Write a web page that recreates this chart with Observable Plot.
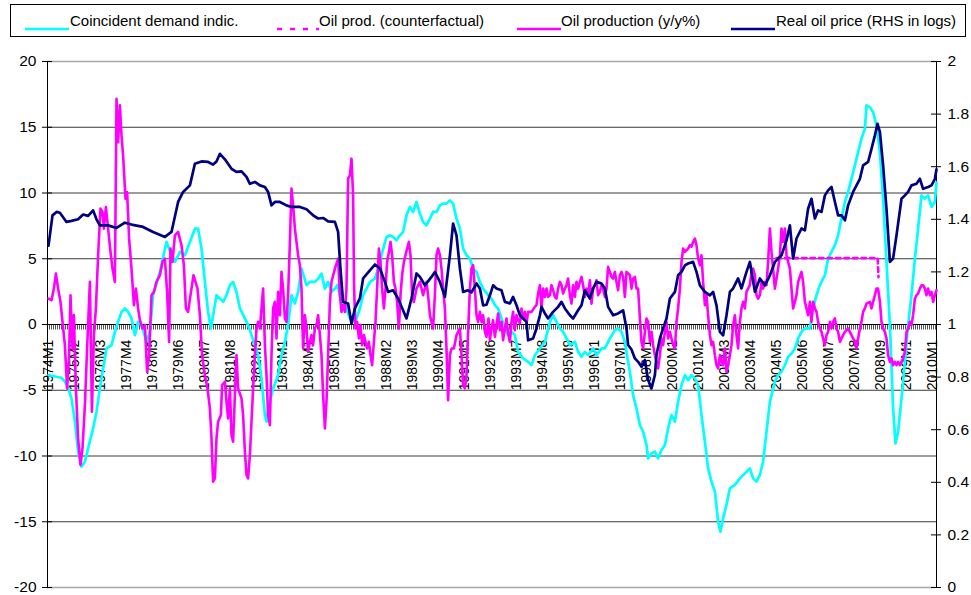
<!DOCTYPE html>
<html><head><meta charset="utf-8">
<script src="https://cdn.jsdelivr.net/npm/d3@7"></script>
<script src="https://cdn.jsdelivr.net/npm/@observablehq/plot@0.6"></script>
<style>
body{margin:0;background:#fff;font-family:"Liberation Sans",Arial,sans-serif;}
#wrap{position:relative;width:971px;height:595px;overflow:hidden;}
#legend{position:absolute;left:10px;top:4px;width:956px;height:33px;border:1px solid #000;box-sizing:border-box;z-index:2;}
.sw{position:absolute;top:13px;}
.lt{position:absolute;top:7px;font-size:15px;line-height:17px;color:#000;white-space:nowrap;}
#chart{position:absolute;left:0;top:37px;z-index:1;}
</style></head><body>
<div id="wrap"><div id="legend"></div><div id="chart"></div></div>
<script>
// ---- series names / legend ----
const seriesNames = ["Coincident demand indic.", "Oil prod. (counterfactual)", "Oil production (y/y%)", "Real oil price (RHS in logs)"];
const seriesColors = ["#00FFFF", "#FF00FF", "#FF00FF", "#000080"];

// ---- x-axis category labels (month index from 1974M1, label text as shown) ----
const xTickMonths = [0,13,26,39,52,65,78,91,104,117,130,143,156,169,182,195,208,221,234,247,260,273,286,299,312,325,338,351,364,377,390,403,416,429,442];
const xTickLabels = ["1974M1","1975M2","1976M3","1977M4","1978M5","1979M6","1980M7","1981M8","1982M9","1983M1","1984M1","1985M1","1987M1","1988M2","1989M3","1990M4","1991M5","1992M6","1993M7","1994M8","1995M9","1996M1","1997M1","1998M1","2000M1","2001M2","2002M3","2003M4","2004M5","2005M6","2006M7","2007M8","2008M9","2009M1","2010M1"];
const leftTicks = [-20,-15,-10,-5,0,5,10,15,20];
const rightTicks = [0,0.2,0.4,0.6,0.8,1,1.2,1.4,1.6,1.8,2];
const rightTickLabels = ["0","0.2","0.4","0.6","0.8","1","1.2","1.4","1.6","1.8","2"];

// ---- data: [month index since 1974M1, value] ----
const demand = [[0,-3.85],[4,-3.97],[6.5,-4.05],[8.2,-4.35],[9.8,-4.86],[11.5,-5.62],[13.2,-7.39],[14.8,-9.67],[16.5,-10.81],[18.2,-10.43],[19.8,-9.42],[22.3,-7.9],[24,-6.63],[25.7,-4.86],[27.3,-3.34],[29,-1.82],[31.5,-1.57],[33.2,-0.56],[34.8,0.2],[36.5,0.96],[38.2,1.22],[39.8,0.96],[41.5,0.46],[43.2,-0.81],[44.8,0.2],[46.5,-0.05],[49,-1.32],[50.7,-0.56],[52.3,2.23],[55.7,4.0],[59,6.28],[61.5,5.27],[63.2,4.76],[65.7,5.52],[68.2,5.27],[70.7,6.28],[73.2,7.29],[74.8,7.29],[76.5,5.77],[78.2,3.24],[79.8,0.96],[81.2,-0.3],[82.3,0.71],[84,2.23],[85.7,1.97],[87.3,1.72],[89,2.23],[90.7,2.99],[92.3,3.24],[94,2.48],[95.7,1.22],[98.2,0.46],[99.8,-0.05],[101.5,-0.81],[103.2,-1.57],[104.8,-2.33],[106.5,-4.1],[108.2,-6.89],[109,-7.39],[110.7,-5.87],[112.3,-4.86],[114.8,-3.85],[116.5,-2.33],[118.2,-1.32],[119.8,-0.05],[121.5,2.23],[123.2,1.59],[124.8,2.48],[126.5,4.25],[129,2.99],[130.7,3.24],[133.2,3.24],[134.8,3.49],[136.5,3.87],[138.2,2.73],[139.8,3.24],[141.5,2.48],[143.2,2.73],[144.5,3.0],[145.7,2.23],[147.3,1.72],[149,1.22],[150.7,0.46],[152.3,0.2],[154,0.46],[155.7,1.22],[157.3,2.23],[159,2.73],[160.7,3.24],[163.2,3.49],[164.8,4.25],[166.5,5.27],[169,6.66],[170.7,6.78],[172.3,6.66],[174,6.41],[175.7,6.78],[177.3,7.04],[179,8.3],[180.7,8.94],[182.3,8.56],[184,9.32],[185.7,8.43],[187.3,7.8],[189,7.54],[190.7,8.05],[192.3,8.56],[194,8.56],[195.7,9.06],[197.3,9.19],[199,9.19],[200.7,9.44],[202.3,9.19],[204,8.05],[205.7,7.29],[207.3,5.77],[209,5.27],[210.7,5.01],[212.3,4.25],[214,4.0],[215.7,3.24],[217.3,2.73],[219.8,2.23],[221.5,1.97],[223.2,1.47],[224.8,1.22],[226.5,0.46],[228.2,-0.3],[229.8,-0.81],[231.5,-0.56],[233.2,-0.81],[234.8,-2.08],[237.3,-2.58],[239.8,-2.84],[241.5,-3.09],[243.2,-2.33],[245.7,-1.82],[248.2,-1.32],[250.7,0.2],[252.3,0.71],[254,0.2],[255.7,-0.3],[257.3,-0.56],[259,-1.06],[260.7,-1.57],[263.2,-1.32],[264.8,-2.08],[266.5,-2.46],[268.2,-2.08],[269.8,-2.33],[272.3,-1.82],[274,-2.33],[276.5,-1.82],[278.2,-1.82],[280.7,-1.06],[283.2,-0.43],[284.8,-0.3],[286.5,-0.56],[288.2,-1.32],[289.8,-2.84],[290.7,-3.6],[292.3,-5.37],[294,-6.38],[295.7,-7.65],[297.3,-8.15],[299,-9.16],[299.8,-10.18],[301.5,-9.8],[303.2,-9.67],[304.8,-10.18],[306.5,-9.54],[308.2,-9.16],[309.8,-7.9],[311.5,-6.89],[313.2,-7.39],[314.8,-5.87],[316.5,-4.61],[318.2,-3.85],[319.8,-4.23],[321.5,-3.85],[323.2,-4.1],[324.8,-4.61],[326.5,-6.89],[328.2,-8.91],[329.8,-10.94],[331.5,-11.95],[333.2,-12.71],[334.8,-14.99],[336,-15.75],[337.3,-14.73],[339,-13.72],[340.7,-12.46],[343.2,-12.2],[345.7,-11.7],[348.2,-11.32],[350.7,-10.94],[352.3,-11.7],[354,-11.95],[355.7,-11.44],[357.3,-10.43],[359,-8.15],[360.7,-5.87],[363.2,-4.35],[364.8,-3.85],[366.5,-3.6],[368.2,-3.09],[369.8,-2.46],[371.5,-2.2],[373.2,-1.82],[374.8,-1.06],[376.5,-0.56],[378.2,-0.3],[380.7,-0.3],[382.3,1.22],[384,2.23],[385.7,2.99],[388.2,3.75],[389.8,5.01],[391.5,5.52],[393.2,6.03],[394.8,6.78],[396.5,8.05],[398.2,9.32],[399.8,10.08],[401.5,11.09],[403.2,12.1],[404.8,13.11],[406.5,14.13],[408.2,14.89],[409,16.66],[410.7,16.53],[412.3,16.15],[414,15.14],[415.7,13.11],[417.3,9.57],[419,4.76],[420.7,-0.05],[422.3,-6.38],[423.5,-9.04],[424.8,-8.15],[426.5,-5.62],[428.2,-2.84],[429.8,-0.05],[431.5,2.23],[433.2,5.01],[434.8,7.29],[436.5,9.82],[438.2,9.57],[439.8,9.82],[441.5,8.94],[443.2,9.32],[444,10.8]];

const oilProd = [[0,1.97],[1.5,1.85],[2.7,2.73],[3.7,3.87],[4.8,2.73],[6,1.72],[7,0.2],[8.2,-1.57],[9.3,-4.86],[10.3,-2.33],[11,2.23],[12,-1.82],[12.7,0.71],[13.7,-4.86],[14.8,-8.66],[16,-10.68],[17,-9.42],[18.2,-6.13],[19.3,-1.82],[20,0.71],[20.7,3.24],[21.7,-6.63],[22.7,-0.81],[23.7,1.22],[24.8,5.27],[26,8.81],[27,8.56],[27.7,7.29],[28.7,8.94],[29.8,7.29],[31,5.52],[32,4.25],[33.2,3.24],[34,17.16],[34.8,13.87],[35.7,16.66],[36.5,14.38],[37.3,12.86],[38.5,9.57],[39.3,10.08],[40.3,6.53],[41.5,4.25],[42.7,1.47],[43.7,2.73],[44.8,1.22],[45.7,0.33],[47,-0.3],[48.2,-0.05],[49.3,-3.6],[50.3,-2.33],[51.5,2.23],[52.7,2.48],[54,3.24],[55.7,3.75],[57,4.76],[58.2,5.01],[59.3,2.48],[60.3,-1.32],[61,5.77],[62,4.76],[63.2,6.78],[64.8,7.04],[66.5,6.03],[67.7,4.51],[68.7,1.22],[69.8,0.96],[71,2.23],[72.5,3.75],[74.5,2.73],[75.7,0.71],[76.8,-2.33],[78.2,-3.85],[79.5,-4.86],[80.7,-6.38],[81.5,-8.66],[82.3,-11.95],[83.2,-11.7],[84,-8.66],[84.8,-7.39],[86.2,-6.89],[86.8,-4.61],[88.2,-4.35],[89,-5.87],[89.8,-7.14],[90.7,-4.86],[91.5,-8.41],[92.3,-8.91],[93.2,-5.37],[94,-2.33],[94.8,-4.86],[96.5,-5.62],[97.3,-6.89],[98.2,-9.67],[99,-11.44],[99.8,-11.7],[100.7,-9.92],[101.5,-7.39],[102.3,-4.86],[103.2,-2.33],[104,-0.3],[104.8,0.2],[105.7,-0.3],[106.5,1.22],[107.3,2.73],[108.2,-1.57],[109,-3.85],[109.8,-6.89],[110.7,-7.65],[111.5,-2.33],[112.3,1.22],[113.2,1.72],[114,-1.06],[114.8,2.48],[115.7,0.71],[116.5,4.0],[117.3,2.73],[118.2,0.46],[119,0.2],[119.8,2.23],[120.7,6.28],[121.5,10.33],[122.3,9.06],[123.2,7.29],[124,6.28],[124.8,5.27],[125.7,4.51],[126.5,2.73],[127.3,-1.82],[128.2,0.71],[129,-0.3],[129.8,-2.08],[130.7,-1.32],[131.5,-0.81],[132.3,-1.57],[133.2,-0.3],[134,-0.05],[134.8,0.71],[135.7,-0.81],[136.5,-2.33],[137.3,-5.37],[138.2,-7.9],[139,-5.87],[139.8,-2.33],[140.7,1.72],[141.5,3.24],[143.2,4.25],[144.8,5.01],[145.7,2.23],[146.5,0.96],[147.3,1.47],[148.2,0.96],[149,2.73],[149.8,11.09],[150.7,11.34],[151.5,12.61],[152.3,9.82],[152.8,2.73],[153.5,-0.3],[154.3,0.2],[155.2,-1.06],[156,-0.05],[156.8,-1.57],[157.7,-0.81],[158.5,-1.32],[159.3,-1.82],[160.2,-1.32],[161,-2.33],[161.8,-3.09],[162.7,-1.32],[163.5,0.2],[164.3,2.73],[165.2,5.77],[166,4.76],[166.8,2.73],[167.7,1.22],[168.5,2.73],[169.3,4.76],[170.2,5.52],[171,6.28],[171.8,5.27],[172.7,3.24],[173.5,2.73],[174.3,1.72],[175.2,-0.3],[176,2.23],[176.8,3.75],[177.7,4.76],[178.5,5.27],[179.3,5.77],[180.2,6.28],[181,5.27],[181.8,2.23],[182.7,1.72],[184,2.73],[185.7,3.24],[187.3,2.23],[189,3.24],[189.8,2.23],[190.7,0.71],[191.5,0.2],[192.3,-0.3],[193.2,2.23],[194,5.27],[194.8,5.77],[195.7,5.27],[196.5,4.25],[197.3,2.73],[198.2,1.22],[199,-1.82],[199.8,-5.75],[200.7,-2.33],[201.5,-1.82],[202.7,-1.82],[204,-0.81],[204.8,-0.56],[205.7,-0.3],[206.5,-2.33],[207.3,-4.61],[208.2,-4.86],[209,-3.85],[209.8,-0.56],[210.7,2.73],[211.5,4.25],[212.3,4.51],[213.2,2.73],[214,0.71],[214.8,0.2],[215.7,0.96],[216.5,0.2],[217.3,0.71],[218.2,-0.56],[219,-0.94],[220,0.46],[220.7,-1.19],[221.5,-0.3],[222.3,0.33],[223.2,-0.94],[224,-0.05],[224.8,0.84],[225.7,-0.43],[226.5,0.2],[227.3,-1.19],[228.2,-0.3],[229,0.46],[229.8,-0.68],[230.7,-1.32],[231.5,0.2],[232.3,0.96],[233.2,-0.43],[234,0.71],[234.8,0.33],[235.7,0.08],[236.5,1.22],[237.3,0.46],[238.2,0.96],[239,0.08],[239.8,0.96],[241.5,0.96],[243.2,1.34],[244,1.47],[244.8,2.35],[245.7,2.99],[246.5,1.22],[247.3,2.73],[248.2,2.1],[249,2.73],[249.8,2.1],[250.7,2.23],[251.5,2.99],[252.3,2.61],[253.2,2.1],[254,1.97],[254.8,2.73],[255.7,3.24],[256.5,2.99],[257.3,2.35],[258.2,2.73],[259,2.99],[259.8,3.49],[260.7,2.23],[261.5,1.59],[262.3,2.99],[263.2,2.1],[264,3.24],[264.8,2.73],[265.7,3.24],[266.5,3.62],[267.3,2.99],[268.2,2.1],[269,2.73],[269.8,2.23],[270.7,3.37],[271.5,1.59],[272.3,2.73],[273.2,2.99],[274,3.37],[274.8,2.23],[275.7,2.48],[276.5,2.99],[277.3,2.73],[278.2,2.1],[279,2.73],[279.8,4.38],[280.7,4.0],[281.5,3.62],[282.3,3.49],[283.2,4.0],[284,3.24],[284.8,2.61],[285.7,3.75],[286.5,4.0],[287.3,3.62],[288.2,2.1],[289,4.0],[290.7,3.75],[291.5,2.73],[292.3,3.49],[293.2,3.62],[294,2.73],[294.8,2.73],[295.7,0.46],[296.5,-1.32],[297.3,-1.82],[298.2,-0.56],[299,0.46],[299.8,0.2],[300.7,-1.32],[301.5,-0.56],[302.3,-1.57],[303.2,-2.33],[304,-2.84],[304.8,-3.34],[305.7,-2.33],[306.5,-1.06],[307.3,-1.57],[308.2,-0.56],[309,0.2],[309.8,-1.06],[310.7,-0.56],[311.5,-1.06],[312.3,-1.57],[313.2,-1.82],[314,0.2],[314.8,1.22],[315.7,2.73],[316.5,4.76],[317.3,5.77],[318.2,5.52],[319,5.65],[319.8,5.77],[320.7,6.03],[321.5,5.9],[322.3,6.28],[323.2,6.53],[324,6.03],[324.8,5.01],[325.7,4.51],[326.5,5.27],[327.3,3.24],[328.2,1.47],[329,2.23],[329.8,0.71],[330.7,-0.81],[331.5,-1.57],[332.3,-1.32],[333.2,-2.33],[334,-3.09],[334.8,-3.34],[335.7,-2.33],[336.5,-2.84],[337.3,-3.09],[338.2,-1.82],[339,-3.6],[339.8,-3.09],[340.7,-2.33],[341.5,-1.57],[342.3,-0.05],[343.2,0.71],[344,-0.81],[344.8,-1.82],[345.7,0.2],[346.5,1.22],[347.3,1.72],[348.2,1.22],[349,2.48],[349.8,2.73],[350.7,2.99],[351.5,4.0],[352.3,4.25],[353.2,3.75],[354,2.23],[354.8,1.97],[355.7,2.23],[356.5,3.24],[357.3,2.73],[358.2,3.24],[359,2.99],[359.8,4.76],[360.7,7.29],[361.5,5.5],[362.3,4.25],[363.2,2.73],[364.8,4.25],[365.7,5.27],[366.5,7.29],[367.3,6.28],[368.2,7.29],[369,5.27],[369.8,4.76],[370.7,4.25],[371.5,2.73],[372.3,1.22],[373.2,1.72],[374,2.23],[374.8,3.24],[376.5,4.0],[377.3,3.24],[378.2,1.72],[379,1.22],[379.8,0.71],[380.7,1.72],[381.5,0.2],[382.3,1.72],[383.2,1.22],[384,0.96],[384.8,0.2],[385.7,-0.3],[386.5,-0.56],[387.3,-1.06],[388.2,-1.57],[389,-0.81],[389.8,-0.56],[390.7,0.2],[391.5,-0.3],[392.3,0.2],[393.2,0.46],[394,-0.3],[394.8,-0.56],[395.7,-1.32],[396.5,-1.06],[397.3,-0.81],[398.2,-0.56],[399.8,-0.3],[401.5,-0.81],[403.2,-1.32],[404,-1.82],[404.8,-1.06],[405.7,-0.3],[406.5,0.2],[407.3,0.96],[408.2,1.22],[409,1.59],[410.7,1.72],[411.5,1.22],[412.3,1.72],[413.2,2.23],[414,2.73],[414.8,2.73],[415.7,1.72],[416.5,0.2],[417.3,-0.3],[418.2,-0.56],[419,-1.06],[419.8,-2.33],[420.7,-2.84],[421.5,-2.58],[422.3,-3.09],[423.2,-2.84],[424,-3.09],[424.8,-2.84],[425.7,-3.09],[426.5,-2.84],[427.3,-2.58],[428.2,-2.08],[429,-0.56],[429.8,-0.3],[430.7,0.2],[431.5,-0.05],[432.3,0.71],[433.2,1.97],[434,2.23],[434.8,2.35],[435.7,2.73],[436.5,2.99],[437.3,2.99],[438.2,2.73],[439,2.23],[439.8,2.73],[440.7,2.23],[441.5,2.48],[442.3,1.72],[443.2,2.23],[444,2.61]];

const oilProdCounterfactual = [[364,5.05],[390,5.05],[414.6,5.05],[415,3.6]];

const oilPrice = [[0,1.30],[2,1.415],[4,1.428],[5.7,1.425],[9,1.39],[11.5,1.394],[14.8,1.40],[17.3,1.418],[19.8,1.413],[22.3,1.434],[24,1.40],[25.7,1.377],[29.8,1.377],[34,1.367],[38.2,1.387],[41.5,1.38],[47.3,1.371],[52.3,1.352],[58.2,1.333],[61.5,1.352],[64.8,1.466],[67.3,1.504],[70.7,1.529],[73.2,1.611],[76.5,1.62],[79.8,1.618],[82.3,1.608],[84,1.62],[85.7,1.649],[88.2,1.628],[91.5,1.592],[94,1.58],[96.5,1.582],[99,1.561],[100.7,1.535],[103.2,1.542],[105.7,1.529],[108.2,1.523],[109.8,1.504],[111.5,1.453],[113.2,1.466],[115.7,1.466],[119,1.453],[121.5,1.447],[125.7,1.447],[129,1.438],[132.3,1.415],[134.8,1.403],[137.3,1.405],[139.8,1.392],[143.2,1.39],[144.8,1.352],[146,1.21],[147.3,1.086],[149.8,1.08],[151.5,1.004],[153.2,1.061],[155.7,1.099],[157.3,1.175],[160.7,1.206],[163.2,1.228],[165.7,1.213],[168.2,1.162],[169.8,1.124],[172.3,1.13],[174.8,1.099],[179,1.023],[181.5,1.099],[184,1.194],[185.7,1.181],[188.2,1.149],[191.5,1.181],[193.2,1.2],[195.7,1.162],[198.2,1.105],[200.7,1.263],[202.3,1.384],[204,1.339],[205.7,1.213],[207.3,1.124],[209.8,1.13],[211.5,1.122],[214,1.156],[215.7,1.137],[217.3,1.073],[219,1.075],[220.7,1.111],[222.3,1.149],[224,1.137],[226.5,1.13],[228.2,1.086],[230.7,1.08],[232.3,1.105],[234,1.073],[235.7,1.035],[237.3,1.023],[239,1.01],[239.8,0.94],[242.3,0.947],[244,0.985],[245.7,1.035],[246.5,1.067],[248.2,1.042],[249.8,1.023],[252.3,1.048],[254.8,1.067],[256.5,1.086],[258.2,1.061],[260.7,1.035],[262.3,1.023],[264.8,1.054],[266.5,1.073],[268.2,1.13],[270.7,1.099],[272.3,1.137],[274,1.162],[276.5,1.156],[278.2,1.137],[279.8,1.067],[282.3,1.035],[284.8,1.042],[287.3,1.054],[289,0.985],[289.8,0.922],[291.5,0.905],[293.2,0.871],[294.8,0.858],[296.5,0.839],[298.2,0.865],[299.8,0.789],[301.5,0.757],[303.2,0.808],[304,0.884],[305.7,0.947],[307.3,0.985],[309,1.023],[310.7,1.099],[313.2,1.124],[314.8,1.187],[316.5,1.2],[318.2,1.225],[319.8,1.232],[322.3,1.238],[324,1.2],[325.7,1.149],[328.2,1.124],[330.7,1.111],[332.3,1.124],[334,1.073],[335.7,0.972],[337.3,0.959],[339,1.035],[340.7,1.124],[342.3,1.137],[344.8,1.175],[346.5,1.137],[349,1.2],[350.7,1.238],[353.2,1.124],[355.7,1.175],[358.2,1.149],[360.7,1.187],[363.2,1.238],[366.5,1.263],[369,1.32],[370.7,1.377],[372.3,1.251],[374,1.327],[376.5,1.365],[378.2,1.358],[379.8,1.44],[381.5,1.478],[383.2,1.403],[384.8,1.434],[386.5,1.428],[388.2,1.491],[389.8,1.51],[391.5,1.523],[393.2,1.466],[394.8,1.415],[396.5,1.415],[398.2,1.396],[399.8,1.453],[402.3,1.504],[404,1.529],[405.7,1.554],[407.3,1.605],[409.8,1.618],[411.5,1.668],[413.2,1.719],[414.5,1.763],[415.7,1.732],[417.3,1.605],[419,1.44],[420.7,1.238],[422.3,1.251],[424,1.339],[426.5,1.478],[428.2,1.491],[429.8,1.504],[431.5,1.529],[434,1.535],[435.7,1.554],[437.3,1.516],[439.8,1.523],[441.5,1.529],[443.2,1.554],[444,1.59]];

// ---- legend (HTML, above the SVG) ----
const legend = document.getElementById("legend");
const legendPos = [[14, 59], [264, 308], [506, 550], [720, 765]]; // swatch left, text left (relative to box)
seriesNames.forEach((name, i) => {
  const [sx, tx] = legendPos[i];
  const dash = i === 1 ? 'stroke-dasharray="5,8"' : "";
  const sw = document.createElement("div");
  sw.className = "sw"; sw.style.left = sx + "px";
  sw.innerHTML = `<svg width="44" height="6"><line x1="${i===1?2:0}" y1="3" x2="44" y2="3" stroke="${seriesColors[i]}" stroke-width="2.6" ${dash}/></svg>`;
  legend.appendChild(sw);
  const t = document.createElement("div");
  t.className = "lt"; t.style.left = tx + "px"; t.textContent = name;
  legend.appendChild(t);
});

// ---- chart ----
const toRow = ([m, v]) => ({m, v});
const rhs = r => (r - 1) * 20; // secondary axis (0..2) mapped onto primary (-20..20)
const monthEdges = d3.range(-0.5, 444, 1);

const chart = Plot.plot({
  width: 971, height: 558,
  marginLeft: 47, marginRight: 35, marginTop: 24, marginBottom: 8,
  x: {domain: [-0.5, 444], axis: null},
  y: {domain: [-20, 20], axis: null},
  style: {fontFamily: "Liberation Sans, Arial, sans-serif", background: "transparent", overflow: "visible", color: "#000"},
  marks: [
    Plot.ruleY([-15, -10, -5, 5, 10, 15], {stroke: "#3a3a3a", strokeWidth: 1}),
    Plot.ruleY([20, -20], {stroke: "#a8a8a8", strokeWidth: 1.5}),
    // category axis at 0 with monthly tick marks
    Plot.ruleX(monthEdges, {x: d => d, y1: 0, y2: -0.42, stroke: "#555", strokeWidth: 1}),
    Plot.ruleY([0], {stroke: "#000", strokeWidth: 1}),
    // left and right value axes
    Plot.ruleX([-0.5], {y1: -20, y2: 20, stroke: "#000"}),
    Plot.ruleX([444], {y1: -20, y2: 20, stroke: "#000"}),
    Plot.ruleY(leftTicks, {y: d => d, x1: -3, x2: 2, stroke: "#000"}),
    Plot.ruleY(rightTicks, {y: rhs, x1: 441.5, x2: 446.5, stroke: "#000"}),
    Plot.text(leftTicks, {x: -0.5, y: d => d, text: d => String(d), dx: -11, textAnchor: "end", fontSize: 15.5}),
    Plot.text(rightTicks, {x: 444, y: rhs, text: (d, i) => rightTickLabels[i], dx: 11, textAnchor: "start", fontSize: 15.5}),
    Plot.text(xTickMonths, {x: d => d, y: -5, text: (d, i) => xTickLabels[i], rotate: -90, textAnchor: "start", fontSize: 14}),
    // series
    Plot.line(demand.map(toRow), {x: "m", y: "v", stroke: seriesColors[0], strokeWidth: 2.7}),
    Plot.line(oilProdCounterfactual.map(toRow), {x: "m", y: "v", stroke: seriesColors[1], strokeWidth: 2.6, strokeDasharray: "4.5,4"}),
    Plot.line(oilProd.map(toRow), {x: "m", y: "v", stroke: seriesColors[2], strokeWidth: 2.6}),
    Plot.line(oilPrice.map(toRow), {x: "m", y: d => rhs(d.v), stroke: seriesColors[3], strokeWidth: 2.7})
  ]
});
document.getElementById("chart").appendChild(chart);
</script></body></html>
